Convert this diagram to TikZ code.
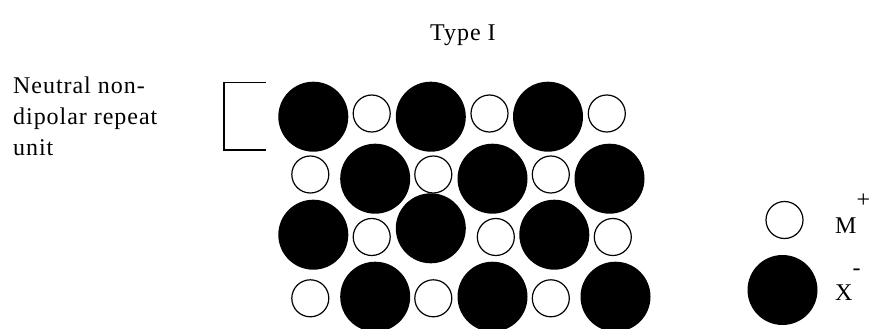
\documentclass[tikz,border=0pt]{standalone}
\usepackage{fontspec}
\setmainfont{Liberation Serif}[LetterSpace=4]
\usepackage{tikz}

\tikzset{
  anion/.style={fill=black},
  cation/.style={draw=black,line width=1.2pt,fill=white},
  lbl/.style={inner sep=0pt,font=\fontsize{24}{31}\selectfont}
}

\begin{document}
\begin{tikzpicture}[x=1pt,y=-1pt]
\useasboundingbox (0,0) rectangle (875,329);
\node[lbl,anchor=base west] (title) at (430,41) {Type I};
\node[lbl,anchor=north west,align=left] (unit) at (13,77) {Neutral non-\\dipolar repeat\\unit};
\draw[line width=1.3pt] (265.7,82.7) -- (224,82.7) -- (224,150) -- (265.7,150);
% X- ions
\foreach \x/\y in {313.3/116.7,430.8/116.7,548/116.7,375.2/178.7,492.5/178.7,609.5/178.7,
  313.3/234.7,430.8/228.3,554.3/234.7,375.2/296.7,492.5/296.7,615.5/296.7}
  \fill[anion] (\x,\y) circle (35);
% M+ ions
\foreach \x/\y in {371.7/113.5,489.5/113.5,606.8/113.5,310.3/174.5,433.3/174.5,550.8/174.5,
  371.7/237,495.8/237,612.8/237,310.3/298.3,433.3/298.3,550.8/298.3}
  \draw[cation] (\x,\y) circle (18.5);
% legend
\draw[cation] (784.5,220) circle (18.5);
\fill[anion] (782.5,290) circle (35);
\node[lbl,anchor=base west] (mlab) at (835,233) {M\raisebox{26pt}{+}};
\node[lbl,anchor=base west] (xlab) at (835,300) {X\raisebox{25pt}{-}};
\end{tikzpicture}
\end{document}
